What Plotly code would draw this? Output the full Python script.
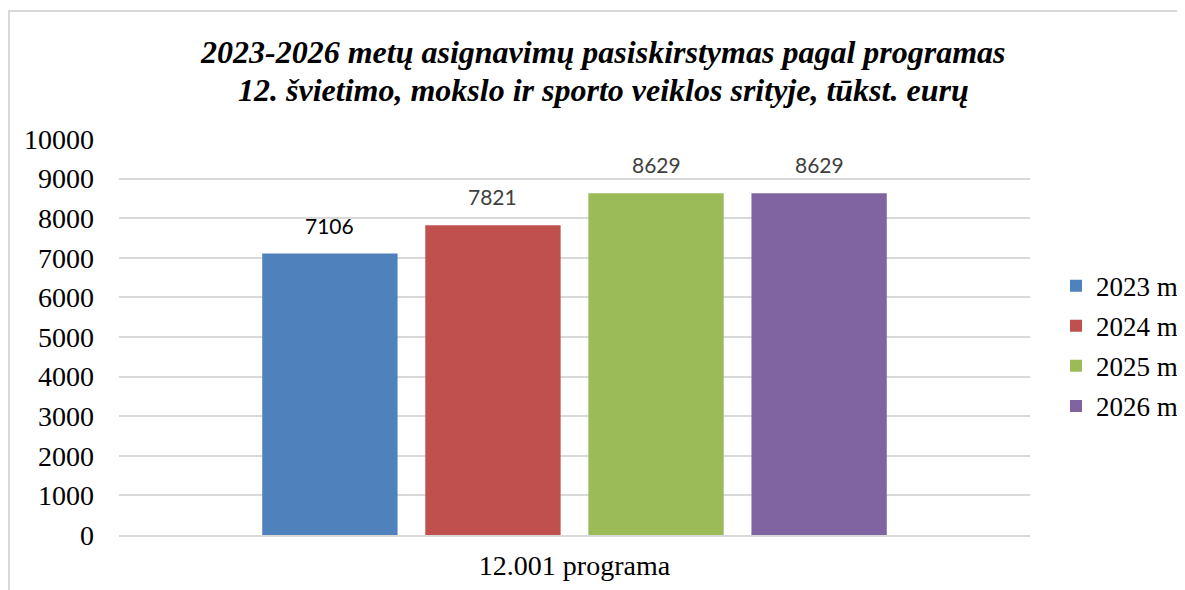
import plotly.graph_objects as go

category = ["12.001 programa"]
series_names = ["2023 m", "2024 m", "2025 m", "2026 m"]
series_values = [7106, 7821, 8629, 8629]
colors = ["#4f81bd", "#c0504d", "#9bbb59", "#8064a2"]
label_colors = ["#000000", "#404040", "#404040", "#404040"]
y_ticks = list(range(0, 10001, 1000))
title_lines = ["2023-2026 metų asignavimų pasiskirstymas pagal programas",
               "12. švietimo, mokslo ir sporto veiklos srityje, tūkst. eurų"]

# page has an 8px body margin, so the figure is sized to the visible area
W, H = 1177, 582
L, R, T, B = 111, 155, 131, 55
pw = W - L - R
ph = H - T - B

fig = go.Figure()
for name, val, col in zip(series_names, series_values, colors):
    fig.add_trace(go.Bar(x=category, y=[val], name=name, legendgroup=name,
                         marker=dict(color=col, line=dict(width=0))))

serif = "Liberation Serif, Times New Roman, serif"
bargap = 0.284
bargroupgap = 0.17
slot = pw * (1 - bargap) / len(series_names)
n = len(series_names)
for i, (val, lc) in enumerate(zip(series_values, label_colors)):
    fig.add_annotation(x=category[0], y=val, text=str(val), showarrow=False,
                       xshift=(i - (n - 1) / 2) * slot, yanchor="bottom", yshift=14,
                       font=dict(family="Lato, sans-serif", size=21, color=lc))

# two-line title as annotations (tighter line spacing)
for line, ypx in zip(title_lines, [52, 90]):
    fig.add_annotation(xref="paper", yref="paper", x=(603 - 8 - L) / pw, y=(H - B - (ypx - 8)) / ph,
                       xanchor="center", yanchor="middle", showarrow=False,
                       text="<b><i>" + line + "</i></b>",
                       font=dict(family=serif, size=32, color="black"))

fig.update_layout(
    width=W, height=H,
    margin=dict(l=L, r=R, t=T, b=B, autoexpand=False),
    paper_bgcolor="white", plot_bgcolor="white",
    barmode="group", bargap=bargap, bargroupgap=bargroupgap,
    yaxis=dict(range=[0, 10000], tickvals=y_ticks, ticktext=[str(v) for v in y_ticks],
               showgrid=True, gridcolor="#d9d9d9", gridwidth=1.5,
               zeroline=False, showline=False, ticks="", ticklabelstandoff=24,
               tickfont=dict(family=serif, size=28, color="black")),
    xaxis=dict(showline=True, linecolor="#d9d9d9", linewidth=1.5, ticks="", ticklabelstandoff=5,
               tickfont=dict(family=serif, size=28, color="black")),
    legend=dict(x=(1056 - 8 - L) / pw, xanchor="left", y=0.477, yanchor="middle",
                font=dict(family=serif, size=27, color="black"), tracegroupgap=2,
                itemwidth=30),
    showlegend=True,
)
# outer chart border (light gray frame)
fig.add_shape(type="rect", xref="paper", yref="paper",
              x0=(1 - L) / pw, x1=(W + 5 - L) / pw,
              y0=(H - B - (H + 5)) / ph, y1=(H - B - 3) / ph,
              line=dict(color="#d9d9d9", width=2), fillcolor="rgba(0,0,0,0)", layer="below")

fig.write_html("out.html")
